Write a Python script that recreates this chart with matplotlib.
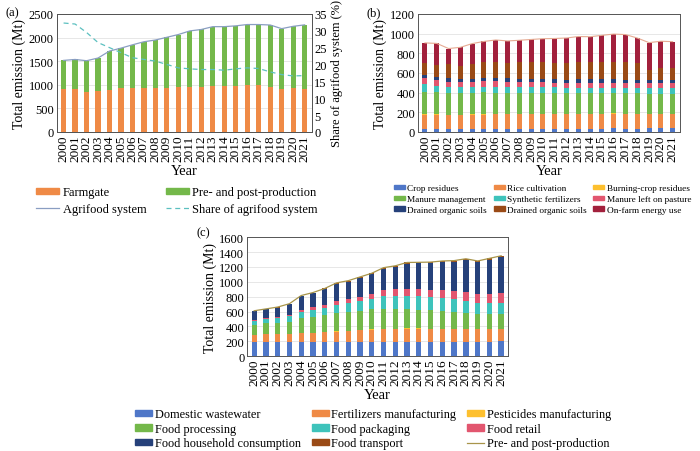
import numpy as np
import matplotlib
matplotlib.use("Agg")
import matplotlib.pyplot as plt
from matplotlib.patches import Patch
from matplotlib.lines import Line2D

plt.rcParams['font.family'] = ['Liberation Serif', 'DejaVu Serif']
plt.rcParams['font.size'] = 8

years = [str(y) for y in range(2000, 2022)]

# panel (a)
farmgate = [905, 900, 848, 860, 898, 920, 935, 925, 932, 940, 948, 950, 955, 970, 968, 982, 995, 990, 955, 908, 922, 918]
prepost = [610, 635, 660, 705, 815, 855, 910, 985, 1015, 1065, 1115, 1190, 1215, 1260, 1262, 1265, 1280, 1285, 1310, 1280, 1315, 1350]
agrifood = [1515, 1535, 1508, 1565, 1713, 1775, 1845, 1910, 1947, 2005, 2063, 2140, 2170, 2230, 2230, 2247, 2275, 2275, 2265, 2188, 2237, 2268]
share = [32.3, 32.0, 29.5, 26.5, 25.0, 23.5, 22.0, 21.5, 21.0, 20.0, 19.0, 18.7, 18.5, 18.5, 18.3, 18.7, 19.0, 18.8, 17.8, 17.0, 16.6, 16.7]

# panel (b) farmgate components
crop_res = [30, 30, 29, 30, 31, 31, 32, 32, 32, 33, 33, 33, 33, 34, 34, 34, 35, 34, 34, 35, 35, 35]
rice = [145, 145, 143, 142, 143, 145, 145, 146, 147, 147, 148, 148, 149, 150, 150, 150, 150, 150, 150, 148, 148, 148]
burning = [3] * 22
manure_mgmt = [232, 228, 225, 222, 222, 222, 220, 218, 216, 214, 212, 210, 208, 206, 205, 205, 205, 204, 204, 204, 204, 204]
synth_fert = [75, 60, 58, 57, 58, 60, 60, 60, 60, 60, 60, 58, 57, 58, 58, 58, 58, 58, 58, 58, 58, 58]
manure_past = [62, 58, 51, 52, 53, 55, 54, 53, 52, 52, 52, 50, 50, 50, 51, 51, 51, 50, 50, 51, 50, 50]
drained1 = [34, 35, 35, 33, 33, 33, 33, 33, 33, 33, 33, 32, 32, 32, 32, 32, 33, 33, 32, 28, 30, 30]
drained2 = [115, 120, 143, 130, 150, 160, 165, 160, 165, 170, 165, 170, 172, 175, 175, 175, 180, 175, 170, 103, 120, 120]
energy = [209, 221, 161, 191, 205, 211, 223, 220, 224, 228, 242, 246, 251, 262, 260, 274, 280, 283, 254, 278, 274, 270]

# panel (c) pre- and post-production components
wastewater = [185, 186, 186, 187, 188, 188, 189, 189, 190, 190, 191, 192, 192, 193, 193, 194, 194, 195, 195, 196, 196, 197]
fert_manu = [100, 105, 108, 112, 118, 125, 130, 140, 148, 155, 165, 170, 172, 175, 175, 172, 170, 168, 166, 165, 165, 165]
pest_manu = [3, 3, 3, 4, 4, 4, 4, 4, 5, 5, 5, 5, 5, 5, 5, 5, 5, 5, 5, 5, 5, 5]
processing = [134, 145, 150, 160, 205, 215, 225, 245, 250, 260, 270, 262, 258, 255, 252, 248, 240, 225, 210, 195, 195, 195]
packaging = [55, 60, 65, 70, 80, 90, 100, 115, 125, 130, 138, 180, 183, 185, 185, 182, 178, 172, 165, 155, 150, 148]
retail = [15, 18, 20, 25, 30, 35, 40, 45, 50, 60, 68, 85, 88, 90, 92, 95, 100, 110, 120, 125, 130, 135]
household = [110, 110, 120, 138, 180, 188, 212, 235, 235, 253, 265, 282, 303, 342, 345, 354, 377, 394, 431, 422, 456, 485]
transport = [8, 8, 8, 9, 10, 10, 10, 12, 12, 12, 13, 14, 14, 15, 15, 15, 16, 16, 18, 17, 18, 20]

BLUE = '#4f77c8'
ORANGE = '#ef8a46'
YELLOW = '#fdc02f'
GREEN = '#74b84a'
CYAN = '#3ec3bb'
PINK = '#e2566f'
NAVY = '#26417a'
BROWN = '#9a4a16'
RED = '#a2203c'

x = np.arange(len(years))


def style_axes(ax, ymax, step):
    ax.set_xlim(-0.6, len(years) - 0.4)
    ax.set_ylim(0, ymax)
    ax.set_yticks(np.arange(0, ymax + 1, step))
    ax.set_xticks(x)
    ax.set_xticklabels(years, rotation=90)
    ax.yaxis.grid(True, color='#e3e3e3', linewidth=0.6)
    ax.set_axisbelow(True)
    ax.tick_params(length=0, pad=2)
    ax.tick_params(axis='x', labelsize=9.5)
    ax.tick_params(axis='y', labelsize=9)
    for s in ax.spines.values():
        s.set_color('#555555')
        s.set_linewidth(0.7)
    ax.set_xlabel('Year', fontsize=10.5, labelpad=2)
    ax.set_ylabel('Total emission (Mt)', fontsize=10, labelpad=2)


def stack(ax, series, colors, width=0.45):
    bottom = np.zeros(len(years))
    for vals, c in zip(series, colors):
        ax.bar(x, vals, width, bottom=bottom, color=c, linewidth=0)
        bottom = bottom + np.array(vals)


fig = plt.figure(figsize=(7, 4.52), dpi=100)

# (a)
ax1 = fig.add_axes([0.081, 0.706, 0.364, 0.261])
stack(ax1, [farmgate, prepost], [ORANGE, GREEN])
ax1.plot(x, agrifood, color='#8a9ec2', linewidth=0.9)
style_axes(ax1, 2500, 500)
ax1b = ax1.twinx()
ax1b.plot(x, share, color='#5cc0c0', linewidth=0.9, linestyle=(0, (4, 3)))
ax1b.set_ylim(0, 35)
ax1b.set_yticks(np.arange(0, 36, 5))
ax1b.tick_params(length=0, pad=2, labelsize=9)
ax1b.set_ylabel('Share of agrifood system (%)', fontsize=9, labelpad=3)
for s in ax1b.spines.values():
    s.set_color('#555555')
    s.set_linewidth(0.7)
fig.text(0.008, 0.965, '(a)', fontsize=9)

h_a = [Patch(color=ORANGE), Line2D([], [], color='#8a9ec2', lw=0.9),
       Patch(color=GREEN), Line2D([], [], color='#5cc0c0', lw=0.9, ls=(0, (4, 3)))]
l_a = ['Farmgate', 'Agrifood system', 'Pre- and post-production', 'Share of agrifood system']
fig.legend(h_a, l_a, loc='upper center', bbox_to_anchor=(0.253, 0.597), ncol=2,
           frameon=False, fontsize=9, handlelength=1.8, handleheight=0.35,
           columnspacing=1.6, labelspacing=0.35, handletextpad=0.3, borderaxespad=0)

# (b)
ax2 = fig.add_axes([0.597, 0.706, 0.374, 0.261])
b_series = [crop_res, rice, burning, manure_mgmt, synth_fert, manure_past, drained1, drained2, energy]
b_colors = [BLUE, ORANGE, YELLOW, GREEN, CYAN, PINK, NAVY, BROWN, RED]
stack(ax2, b_series, b_colors, width=0.42)
ax2.plot(x, farmgate, color='#e6ab93', linewidth=0.8)
style_axes(ax2, 1200, 200)
fig.text(0.523, 0.965, '(b)', fontsize=9)

b_labels = ['Crop residues', 'Rice cultivation', 'Burning-crop residues',
            'Manure management', 'Synthetic fertilizers', 'Manure left on pasture',
            'Drained organic soils', 'Drained organic soils', 'On-farm energy use']
order = [0, 3, 6, 1, 4, 7, 2, 5, 8]
h_b = [Patch(color=b_colors[i]) for i in order]
fig.legend(h_b, [b_labels[i] for i in order], loc='upper center',
           bbox_to_anchor=(0.775, 0.598), ncol=3, frameon=False, fontsize=6.7,
           handlelength=1.2, handleheight=0.4, columnspacing=0.7,
           labelspacing=0.3, handletextpad=0.25, borderaxespad=0)

# (c)
ax3 = fig.add_axes([0.353, 0.210, 0.373, 0.263])
c_series = [wastewater, fert_manu, pest_manu, processing, packaging, retail, household, transport]
c_colors = [BLUE, ORANGE, YELLOW, GREEN, CYAN, PINK, NAVY, BROWN]
stack(ax3, c_series, c_colors)
ax3.plot(x, prepost, color='#a8954a', linewidth=0.9)
style_axes(ax3, 1600, 200)
fig.text(0.281, 0.477, '(c)', fontsize=9)

c_labels = ['Domestic wastewater', 'Fertilizers manufacturing', 'Pesticides manufacturing',
            'Food processing', 'Food packaging', 'Food retail',
            'Food household consumption', 'Food transport']
h_c = [Patch(color=c) for c in c_colors] + [Line2D([], [], color='#a8954a', lw=0.9)]
l_c = c_labels + ['Pre- and post-production']
order = [0, 3, 6, 1, 4, 7, 2, 5, 8]
fig.legend([h_c[i] for i in order], [l_c[i] for i in order], loc='upper center',
           bbox_to_anchor=(0.533, 0.105), ncol=3, frameon=False, fontsize=8.8,
           handlelength=1.4, handleheight=0.4, columnspacing=0.9,
           labelspacing=0.2, handletextpad=0.2, borderaxespad=0)

fig.savefig('out.png', dpi=100)
